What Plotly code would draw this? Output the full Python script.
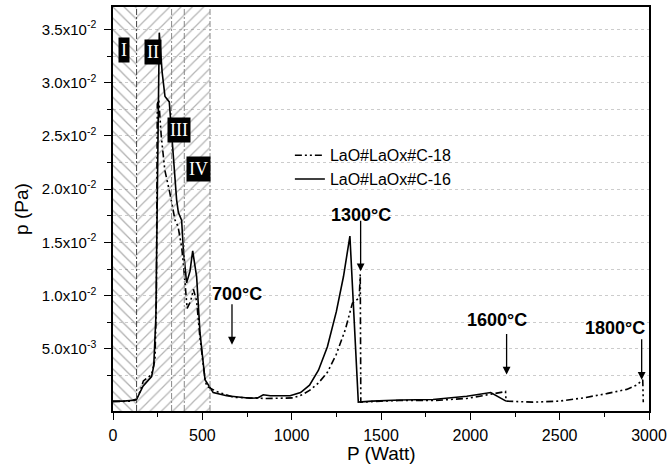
import plotly.graph_objects as go

# ---------------- data ----------------
c16_w = [0, 60, 130, 168, 216, 228, 240, 248, 256, 259, 275, 291, 315, 337, 356, 366, 384, 394,
         412, 431, 446, 468, 487, 515, 561, 636, 700, 767, 810, 841, 880, 991, 1050, 1100, 1150,
         1200, 1250, 1290, 1326, 1373, 1450, 1550, 1606, 1791, 1980, 2114, 2200]
c16_p = [0.0001, 0.0001, 0.0002, 0.0015, 0.0024, 0.0034, 0.008, 0.020, 0.033, 0.0347, 0.031, 0.0287,
         0.0282, 0.0234, 0.019, 0.0178, 0.0171, 0.0143, 0.0112, 0.0123, 0.0142, 0.0118, 0.0065,
         0.0021, 0.0009, 0.0006, 0.0005, 0.00037, 0.0004, 0.0007, 0.0006, 0.0006, 0.0009, 0.0016,
         0.0030, 0.0052, 0.0085, 0.0118, 0.0156, 0.0, 0.0001, 0.0002, 0.0002, 0.00025, 0.00055,
         0.0009, 0.0001]

c18_w = [0, 100, 132, 151, 170, 216, 235, 243, 248, 256, 270, 290, 320, 347, 364, 384, 394, 415,
         435, 450, 468, 487, 515, 524, 580, 673, 860, 1009, 1060, 1100, 1150, 1200, 1250, 1300,
         1340, 1378, 1384, 1387, 1500, 1600, 1791, 1980, 2100, 2166, 2197, 2200, 2350, 2500, 2632,
         2763, 2875, 2930, 2965, 2968]
c18_p = [0.00005, 0.0001, 0.0003, 0.001, 0.002, 0.0026, 0.004, 0.010, 0.028, 0.0284, 0.025, 0.0218,
         0.0195, 0.0171, 0.0165, 0.0146, 0.013, 0.0088, 0.0095, 0.0106, 0.0095, 0.006, 0.0022,
         0.0015, 0.001, 0.00046, 0.00034, 0.0004, 0.0007, 0.0011, 0.0018, 0.0028, 0.0045, 0.0068,
         0.0093, 0.0098, 0.0120, 0.0, 0.0001, 0.00015, 0.00015, 0.00035, 0.0007, 0.0009, 0.001,
         0.0001, 0.0, 0.0001, 0.0004, 0.0008, 0.0012, 0.0016, 0.0021, 0.0]

series_names = ["LaO#LaOx#C-18", "LaO#LaOx#C-16"]

region_edges = [0, 132, 328, 399, 543]
region_labels = ["I", "II", "III", "IV"]
region_label_x = [62, 224, 369, 476]
region_label_y = [0.0331, 0.0329, 0.0256, 0.0219]

temp_labels = ["700°C", "1300°C", "1600°C", "1800°C"]
temp_text_x = [692, 1390, 2147, 2810]
temp_text_y = [0.0102, 0.0176, 0.00775, 0.00695]
temp_arrow_x = [666, 1386, 2203, 2959]
temp_arrow_y = [0.0054, 0.0123, 0.0026, 0.0021]
temp_arrow_len = [42, 52, 42, 42]

y_tickvals = [0.005, 0.010, 0.015, 0.020, 0.025, 0.030, 0.035]
y_ticktext = ["5.0x10<sup>-3</sup>", "1.0x10<sup>-2</sup>", "1.5x10<sup>-2</sup>", "2.0x10<sup>-2</sup>",
              "2.5x10<sup>-2</sup>", "3.0x10<sup>-2</sup>", "3.5x10<sup>-2</sup>"]
y_minor = [0.0025, 0.0075, 0.0125, 0.0175, 0.0225, 0.0275, 0.0325]

x_title = "P (Watt)"
y_title = "p (Pa)"

Y_MIN, Y_MAX = -0.00083, 0.03711
FONT = "Arial, Liberation Sans, sans-serif"

fig = go.Figure()

# hatched regions
fig.add_trace(go.Scatter(
    x=[region_edges[0], region_edges[0], region_edges[1], region_edges[1], region_edges[0]],
    y=[Y_MIN, Y_MAX, Y_MAX, Y_MIN, Y_MIN], mode="lines", line=dict(width=0),
    fill="toself", fillcolor="rgba(0,0,0,0)",
    fillpattern=dict(shape="\\", fgcolor="#5e5e5e", bgcolor="rgba(0,0,0,0)", size=8, solidity=0.16),
    showlegend=False, hoverinfo="skip"))
fig.add_trace(go.Scatter(
    x=[region_edges[1], region_edges[1], region_edges[4], region_edges[4], region_edges[1]],
    y=[Y_MIN, Y_MAX, Y_MAX, Y_MIN, Y_MIN], mode="lines", line=dict(width=0),
    fill="toself", fillcolor="rgba(0,0,0,0)",
    fillpattern=dict(shape="/", fgcolor="#6e6e6e", bgcolor="rgba(0,0,0,0)", size=8, solidity=0.16),
    showlegend=False, hoverinfo="skip"))

# region boundary lines
for i, xe in enumerate(region_edges[1:]):
    fig.add_shape(type="line", x0=xe, x1=xe, y0=Y_MIN, y1=Y_MAX, xref="x", yref="y",
                  line=dict(color="#444444" if i == 0 else "#888888", width=1,
                            dash="6px,2px,2px,2px"))

fig.add_trace(go.Scatter(x=c18_w, y=c18_p, mode="lines", name=series_names[0],
                         line=dict(color="black", width=1.6, dash="7px,3px,2px,3px,2px,3px")))
fig.add_trace(go.Scatter(x=c16_w, y=c16_p, mode="lines", name=series_names[1],
                         line=dict(color="black", width=1.6)))

# region labels
for lab, lx, ly in zip(region_labels, region_label_x, region_label_y):
    fig.add_annotation(x=lx, y=ly, text=lab, showarrow=False, bgcolor="black", borderpad=2,
                       font=dict(family="Liberation Serif, serif", size=18, color="white"))

# temperature annotations
for t, tx, ty, axx, axy, al in zip(temp_labels, temp_text_x, temp_text_y, temp_arrow_x,
                                   temp_arrow_y, temp_arrow_len):
    fig.add_annotation(x=tx, y=ty, text="<b>%s</b>" % t, showarrow=False,
                       font=dict(family=FONT, size=18, color="black"))
    fig.add_annotation(x=axx, y=axy, text="", showarrow=True, ax=0, ay=-al,
                       arrowhead=2, arrowsize=1.2, arrowwidth=1.3, arrowcolor="black")

# x-axis title placed as an annotation below the tick labels
fig.add_annotation(x=0.5, y=-0.106, xref="paper", yref="paper", text=x_title, showarrow=False,
                   xanchor="center", yanchor="middle", font=dict(family=FONT, size=19, color="black"))

fig.update_layout(
    width=667, height=467,
    margin=dict(l=113, r=18, t=7, b=56, autoexpand=False),
    paper_bgcolor="white", plot_bgcolor="white",
    font=dict(family=FONT, color="black", size=16),
    legend=dict(x=0.33, y=0.675, xanchor="left", yanchor="top", bgcolor="rgba(0,0,0,0)",
                font=dict(size=16, family=FONT), tracegroupgap=0),
    showlegend=True,
)
fig.update_xaxes(range=[0, 3000], tickvals=[0, 500, 1000, 1500, 2000, 2500, 3000],
                 ticks="outside", ticklen=7, tickwidth=1.3, tickcolor="black",
                 minor=dict(tickvals=[250, 750, 1250, 1750, 2250, 2750], ticks="outside", ticklen=4,
                            tickcolor="black"),
                 showgrid=False, zeroline=False, showline=True, mirror=True, linecolor="black",
                 linewidth=1.5, tickfont=dict(size=16), ticklabelstandoff=2)
fig.update_yaxes(range=[Y_MIN, Y_MAX], tickmode="array", tickvals=y_tickvals, ticktext=y_ticktext,
                 ticks="outside", ticklen=7, tickwidth=1.3, tickcolor="black",
                 minor=dict(tickvals=y_minor, ticks="outside", ticklen=4, tickcolor="black",
                            showgrid=True, gridcolor="#cccccc", griddash="dot", gridwidth=1),
                 showgrid=True, gridcolor="#cccccc", griddash="dot", gridwidth=1,
                 zeroline=False, showline=True, mirror=True, linecolor="black", linewidth=1.5,
                 tickfont=dict(size=15), ticklabelstandoff=5,
                 title=dict(text=y_title, font=dict(size=19), standoff=8))

# remove the default page margin so the 667x467 figure fills the window exactly
fig.write_html("out.html", config={"displayModeBar": False},
               post_script="document.body.style.margin='0';document.body.style.overflow='hidden';")
